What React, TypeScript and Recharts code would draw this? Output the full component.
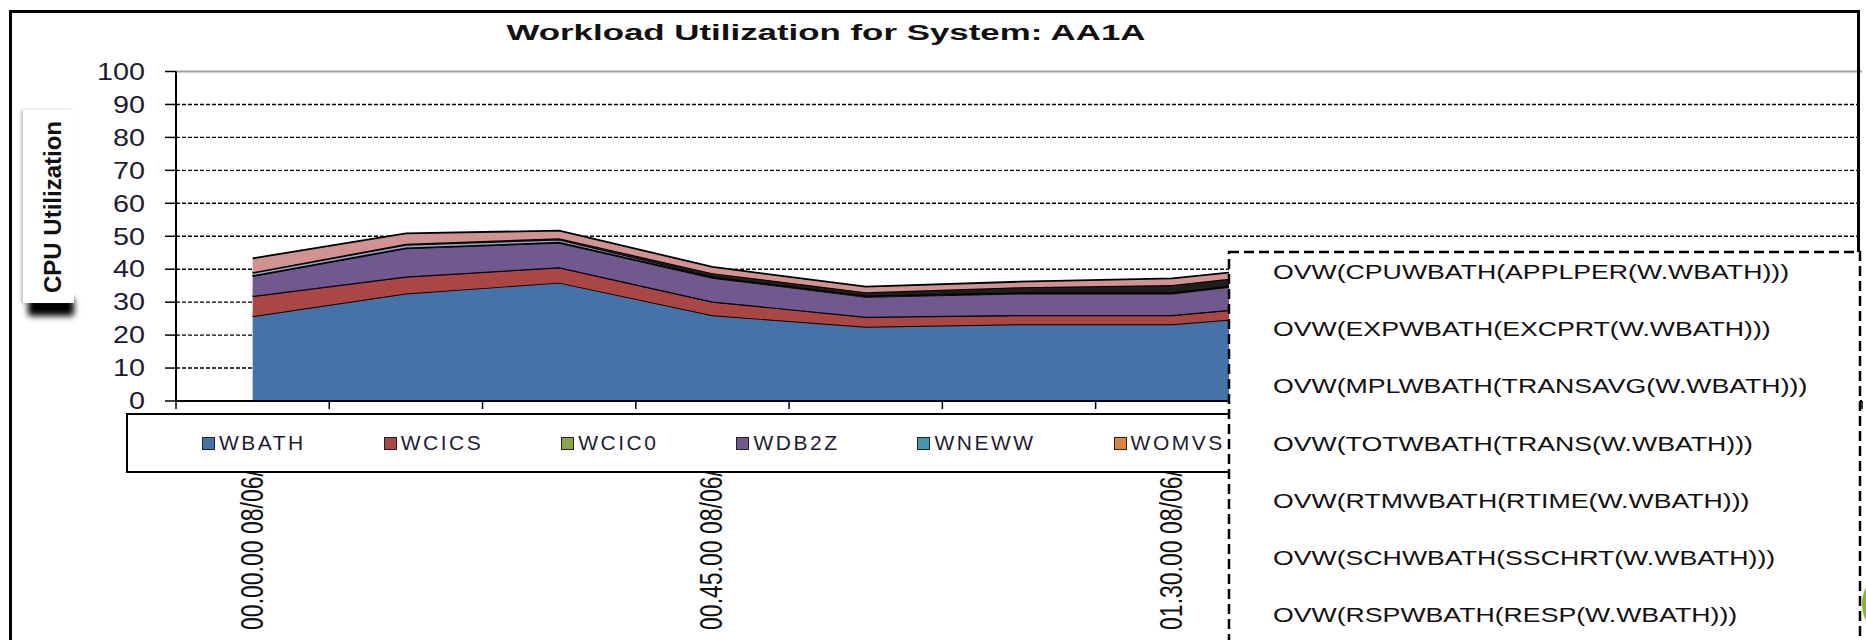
import { AreaChart, Area, XAxis, YAxis, CartesianGrid, ReferenceLine } from "recharts";

// 15 minute samples, only every third one gets a label
const times = [
  "00.00.00", "00.15.00", "00.30.00", "00.45.00", "01.00.00", "01.15.00",
  "01.30.00", "01.45.00", "02.00.00", "02.15.00", "02.30.00",
];
const dayText = "08/06/2012";
const yTicks = [0, 10, 20, 30, 40, 50, 60, 70, 80, 90, 100];
const gridValues = [10, 20, 30, 40, 50, 60, 70, 80, 90];

const wbath = [25.7, 32.6, 35.9, 26.0, 22.5, 23.3, 23.3, 27.0, 26.0, 25.0, 24.5];
const wcics = [6.1, 5.1, 4.6, 4.1, 3.0, 2.7, 2.7, 3.2, 3.1, 3.0, 2.9];
const wcic0 = [0.1, 0.1, 0.1, 0.1, 0.1, 0.1, 0.1, 0.1, 0.1, 0.1, 0.1];
const wdb2z = [6.0, 8.5, 7.4, 7.2, 6.0, 6.5, 6.5, 7.8, 7.4, 7.0, 6.8];
const wneww = [0.2, 0.2, 0.2, 0.2, 0.2, 0.2, 0.2, 0.2, 0.2, 0.2, 0.2];
const womvs = [0.1, 0.1, 0.1, 0.1, 0.1, 0.1, 0.1, 0.1, 0.1, 0.1, 0.1];
const series7 = [0.7, 0.8, 0.7, 0.1, 0.1, 0.1, 0.1, 0.1, 0.1, 0.1, 0.1];
const series8 = [0.2, 0.3, 0.4, 1.0, 1.0, 1.5, 2.2, 1.8, 1.6, 1.5, 1.5];
const series9 = [4.2, 3.2, 2.3, 1.9, 1.7, 1.7, 2.0, 1.7, 2.0, 2.0, 1.9];

const overlayLines = [
  "OVW(CPUWBATH(APPLPER(W.WBATH)))",
  "OVW(EXPWBATH(EXCPRT(W.WBATH)))",
  "OVW(MPLWBATH(TRANSAVG(W.WBATH)))",
  "OVW(TOTWBATH(TRANS(W.WBATH)))",
  "OVW(RTMWBATH(RTIME(W.WBATH)))",
  "OVW(SCHWBATH(SSCHRT(W.WBATH)))",
  "OVW(RSPWBATH(RESP(W.WBATH)))",
];

const series = [
  { key: "WBATH", values: wbath, color: "#4572A7", legend: true },
  { key: "WCICS", values: wcics, color: "#AA4643", legend: true },
  { key: "WCIC0", values: wcic0, color: "#89A54E", legend: true },
  { key: "WDB2Z", values: wdb2z, color: "#71588F", legend: true },
  { key: "WNEWW", values: wneww, color: "#4198AF", legend: true },
  { key: "WOMVS", values: womvs, color: "#DB843D", legend: true },
  { key: "series7", values: series7, color: "#93A9CF", legend: false },
  { key: "series8", values: series8, color: "#1E1E1E", legend: false },
  { key: "series9", values: series9, color: "#D19392", legend: false },
];

const data = times.map((t, i) => {
  const row: Record<string, number | string> = { time: t };
  series.forEach((s) => {
    row[s.key] = s.values[i];
  });
  return row;
});

const FONT = '"Liberation Sans", Arial, sans-serif';
const W = 1866;
const H = 640;
const PLOT_LEFT = 176;
const PLOT_RIGHT = 1862;
const BAND = (PLOT_RIGHT - PLOT_LEFT) / times.length;
const LABEL_STEP = 3;

const YTick = ({ x, y, payload }: any) => (
  <g transform={`translate(${x},${y}) scale(1.25,1)`}>
    <text x={0} y={0} dy="0.36em" textAnchor="end" fontSize={23} fontFamily={FONT} fill="#1c1c30">
      {payload.value}
    </text>
  </g>
);

const XTick = ({ x, y, payload }: any) => {
  const i = times.indexOf(payload.value);
  const edge = x - BAND / 2;
  return (
    <g>
      <line x1={edge} x2={edge} y1={y} y2={y + 8} stroke="#000" strokeWidth={1.5} />
      {i === times.length - 1 && (
        <line x1={x + BAND / 2} x2={x + BAND / 2} y1={y} y2={y + 8} stroke="#000" strokeWidth={1.5} />
      )}
      {i % LABEL_STEP === 0 && (
        <g transform={`translate(${x + 10},${y + 18}) rotate(-90) scale(1,1.4)`}>
          <text x={0} y={0} textAnchor="end" fontSize={23} fontFamily={FONT} fill="#111">
            {`${payload.value} ${dayText}`}
          </text>
        </g>
      )}
    </g>
  );
};

export default function App() {
  return (
    <div style={{ position: "relative", width: W, height: H, overflow: "hidden", background: "#fff" }}>
      <style>{"body{margin:0}"}</style>

      <div style={{ position: "absolute", left: 0, top: 0 }}>
        <AreaChart
          width={W}
          height={H}
          data={data}
          margin={{ top: 71.5, right: W - PLOT_RIGHT, bottom: 209, left: PLOT_LEFT - 76 }}
        >
          <CartesianGrid
            vertical={false}
            horizontalValues={gridValues}
            stroke="#000"
            strokeWidth={1.4}
            strokeDasharray="4 2"
          />
          <XAxis
            dataKey="time"
            interval={0}
            height={30}
            padding={{ left: BAND / 2, right: BAND / 2 }}
            tickSize={0}
            tickMargin={0}
            tickLine={false}
            axisLine={{ stroke: "#000", strokeWidth: 2 }}
            tick={<XTick />}
          />
          <YAxis
            type="number"
            domain={[0, 100]}
            ticks={yTicks}
            interval={0}
            width={76}
            tickSize={11}
            tickMargin={20}
            axisLine={{ stroke: "#000", strokeWidth: 2 }}
            tickLine={{ stroke: "#000", strokeWidth: 1.5 }}
            tick={<YTick />}
          />
          <ReferenceLine y={100} stroke="#a0a0a0" strokeWidth={2} />
          {series.map((s) => (
            <Area
              key={s.key}
              type="linear"
              dataKey={s.key}
              stackId="1"
              fill={s.color}
              fillOpacity={1}
              stroke="#000"
              strokeWidth={1.8}
              dot={false}
              activeDot={false}
              isAnimationActive={false}
            />
          ))}
        </AreaChart>
      </div>

      {/* legend strip under the plot */}
      <div
        style={{
          position: "absolute",
          left: 126,
          top: 413,
          width: 1700,
          height: 60,
          border: "2px solid #000",
          boxSizing: "border-box",
          background: "#fff",
          display: "flex",
          alignItems: "center",
          paddingLeft: 74,
          fontFamily: FONT,
        }}
      >
        {series
          .filter((s) => s.legend)
          .map((s) => (
            <div key={s.key} style={{ display: "flex", alignItems: "center", marginRight: 78 }}>
              <span
                style={{
                  width: 11,
                  height: 11,
                  background: s.color,
                  border: "1.5px solid #222",
                  marginRight: 4,
                  display: "inline-block",
                }}
              />
              <span style={{ fontSize: 21, letterSpacing: 2.5, color: "#1c1c30" }}>{s.key}</span>
            </div>
          ))}
      </div>

      {/* axis title box with its shadow */}
      <div
        style={{
          position: "absolute",
          left: 28,
          top: 298,
          width: 46,
          height: 18,
          background: "#000",
          filter: "blur(3px)",
          borderRadius: 3,
        }}
      />
      <div
        style={{
          position: "absolute",
          left: 23,
          top: 110,
          width: 51,
          height: 193,
          background: "#fff",
          boxShadow: "-2px 0 3px rgba(0,0,0,0.25)",
        }}
      />

      {/* outer frame */}
      <div
        style={{
          position: "absolute",
          left: 9,
          top: 10,
          width: 1851,
          height: 700,
          border: "3px solid #000",
          boxSizing: "border-box",
        }}
      />

      <svg width={W} height={H} style={{ position: "absolute", left: 0, top: 0 }}>
        <g transform="translate(826,40) scale(1.55,1)">
          <text x={0} y={0} textAnchor="middle" fontSize={22.5} fontWeight="bold" fontFamily={FONT} fill="#111">
            Workload Utilization for System: AA1A
          </text>
        </g>
        <g transform="translate(61,207) rotate(-90)">
          <text x={0} y={0} textAnchor="middle" fontSize={24} fontWeight="bold" fontFamily={FONT} fill="#111">
            CPU Utilization
          </text>
        </g>

        <rect
          x={1229}
          y={252}
          width={631}
          height={420}
          fill="#fff"
          stroke="#000"
          strokeWidth={2.5}
          strokeDasharray="10 5"
        />
        {overlayLines.map((line, i) => (
          <g key={line} transform={`translate(1273,${279 + i * 57.2}) scale(1.27,1)`}>
            <text x={0} y={0} fontSize={21} fontFamily={FONT} fill="#111">
              {line}
            </text>
          </g>
        ))}
        <ellipse cx={1882} cy={604} rx={20} ry={28} fill="#7DBB1F" />
      </svg>
    </div>
  );
}
